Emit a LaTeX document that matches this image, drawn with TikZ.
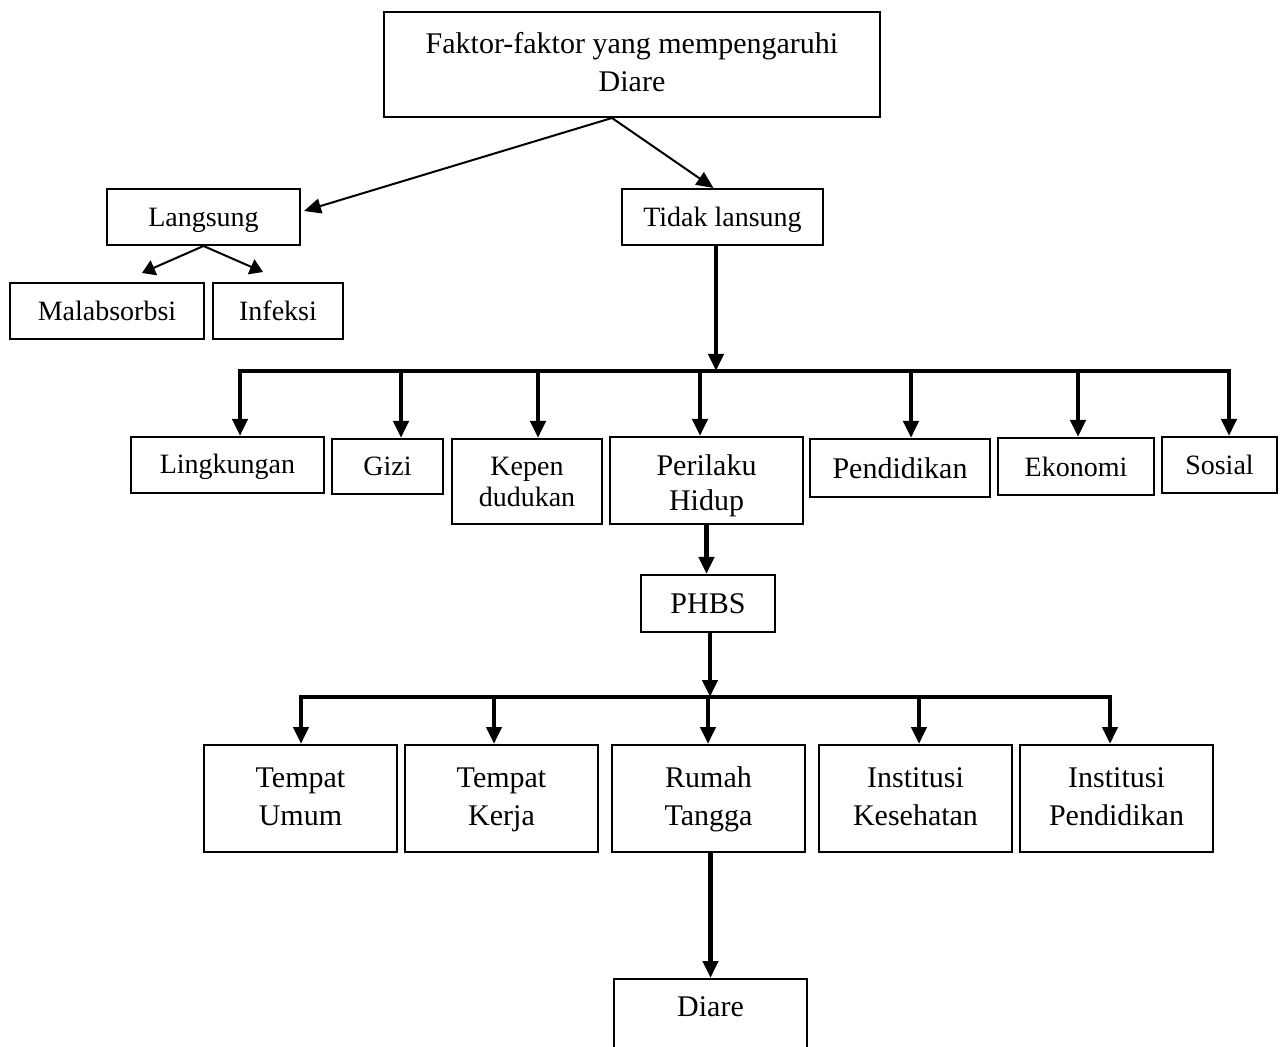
\documentclass[tikz,border=0pt]{standalone}
\usepackage{fontspec}
\setmainfont{Liberation Serif}
\usetikzlibrary{arrows.meta,calc}
\newcommand\fsSmall{\fontsize{14pt}{15.5pt}\selectfont}
\newcommand\fsBig{\fontsize{15pt}{19pt}\selectfont}
\newcommand\fsMid{\fontsize{15pt}{17.5pt}\selectfont}
\begin{document}
\begin{tikzpicture}[x=0.5pt,y=-0.5pt,
  box/.style={draw, line width=1pt, inner sep=0pt, align=center, font=\fsSmall},
  bigbox/.style={box, font=\fsBig},
  sz/.style 2 args={minimum width=#1*0.5pt, minimum height=#2*0.5pt},
  txt/.style={inner sep=0pt, font=\fsBig},
  thinarrow/.style={line width=1pt, -{Triangle[length=8.5pt,width=7.5pt]}},
  smallarrow/.style={line width=1pt, -{Triangle[length=6.5pt,width=8pt]}},
  thickline/.style={line width=2.2pt, line cap=rect},
  thickarrow/.style={line width=2.2pt, -{Triangle[length=8.5pt,width=7.5pt]}}
]
\useasboundingbox (0,0) rectangle (1285,1047);
\clip (0,0) rectangle (1285,1047);

% top level
\node[bigbox, sz={496}{105}] (top) at (632,64.5) {\strut Faktor-faktor yang mempengaruhi\\\strut Diare};
\node[box, sz={193}{56}] (lang) at (203.5,217) {\rule{0pt}{12.2pt}Langsung};
\node[box, sz={201}{56}] (tidak) at (722.5,217) {\rule{0pt}{12.2pt}Tidak lansung};
\node[box, sz={194}{56}] (mal) at (107,311) {Malabsorbsi};
\node[box, sz={130}{56}] (inf) at (278,311) {Infeksi};

% second row
\node[box, sz={193}{56}] (lingk) at (227.5,465) {\rule{0pt}{11.4pt}Lingkungan};
\node[box, sz={111}{55}] (gizi) at (387.5,466.5) {Gizi};
\node[box, sz={150}{85}] (kepen) at (527,481.5) {\rule{0pt}{13.9pt}Kepen\\\strut dudukan};
\node[box, font=\fsMid, sz={193}{87}] (peri) at (706.5,480.5) {\rule{0pt}{18pt}Perilaku\\\strut Hidup};
\node[bigbox, sz={180}{58}] (pend) at (900,468) {Pendidikan};
\node[box, sz={156}{57}] (eko) at (1076,466.5) {Ekonomi};
\node[box, sz={115}{56}] (sos) at (1219.5,465) {Sosial};

\node[bigbox, sz={134}{57}] (phbs) at (708,603.5) {PHBS};

% third row
\node[bigbox, sz={193}{107}] (tu) at (300.5,798.5) {\strut Tempat\\\strut Umum};
\node[bigbox, sz={193}{107}] (tk) at (501.5,798.5) {\strut Tempat\\\strut Kerja};
\node[bigbox, sz={193}{107}] (rt) at (708.5,798.5) {\strut Rumah\\\strut Tangga};
\node[bigbox, sz={193}{107}] (ik) at (915.5,798.5) {\strut Institusi\\\strut Kesehatan};
\node[bigbox, sz={193}{107}] (ip) at (1116.5,798.5) {\strut Institusi\\\strut Pendidikan};

% bottom (cut off)
\node[box, sz={193}{130}, anchor=north] (diare) at (710.5,978) {};
\node[txt] (diaret) at (710.5,1007) {Diare};

% connectors from the top box
\draw[thinarrow] ($(top.south)+(-20,0)$) -- ($(lang.east)+(3,-6)$);
\draw[thinarrow] ($(top.south)+(-20,0)$) -- ($(tidak.north)+(-9,0)$);
\draw[smallarrow] (lang.south) -- ($(mal.north)+(35,-9)$);
\draw[smallarrow] (lang.south) -- ($(inf.north)+(-15,-10)$);

% first bus
\coordinate (j1) at (716,371);
\coordinate (d1) at (240,371);
\coordinate (d2) at (401,371);
\coordinate (d3) at (538,371);
\coordinate (d4) at (700,371);
\coordinate (d5) at (911,371);
\coordinate (d6) at (1078,371);
\coordinate (d7) at (1229,371);
\draw[thickline] (d1) -- (d7);
\draw[thickarrow] (j1 |- tidak.south) -- (j1);
\draw[thickarrow] (d1) -- (d1 |- lingk.north);
\draw[thickarrow] (d2) -- (d2 |- gizi.north);
\draw[thickarrow] (d3) -- (d3 |- kepen.north);
\draw[thickarrow] (d4) -- (d4 |- peri.north);
\draw[thickarrow] (d5) -- (d5 |- pend.north);
\draw[thickarrow] (d6) -- (d6 |- eko.north);
\draw[thickarrow] (d7) -- (d7 |- sos.north);

\draw[thickarrow] (peri.south) -- (peri.south |- phbs.north);

% second bus
\coordinate (j2) at (710,697);
\coordinate (e1) at (301,697);
\coordinate (e2) at (494,697);
\coordinate (e3) at (708,697);
\coordinate (e4) at (919,697);
\coordinate (e5) at (1110,697);
\draw[thickline] (e1) -- (e5);
\draw[thickarrow] (j2 |- phbs.south) -- (j2);
\draw[thickarrow] (e1) -- (e1 |- tu.north);
\draw[thickarrow] (e2) -- (e2 |- tk.north);
\draw[thickarrow] (e3) -- (e3 |- rt.north);
\draw[thickarrow] (e4) -- (e4 |- ik.north);
\draw[thickarrow] (e5) -- (e5 |- ip.north);

\draw[thickarrow] (rt.south -| diare.north) -- (diare.north);
\end{tikzpicture}
\end{document}
